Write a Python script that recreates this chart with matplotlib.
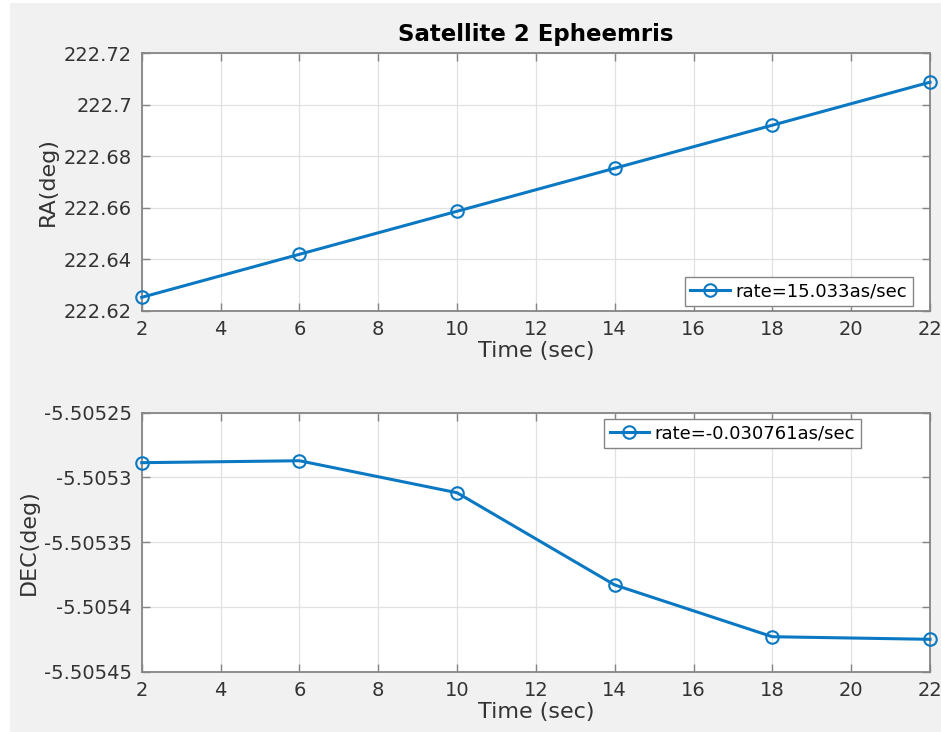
import matplotlib
matplotlib.use("Agg")
import matplotlib.pyplot as plt
from matplotlib.patches import Rectangle

# Data
time_s = [2, 6, 10, 14, 18, 22]
ra_deg = [222.6252, 222.6419, 222.6586, 222.6753, 222.6920, 222.7087]
dec_deg = [-5.5052886, -5.5052871, -5.5053118, -5.5053830, -5.5054230, -5.5054250]

x_ticks = [2, 4, 6, 8, 10, 12, 14, 16, 18, 20, 22]
ra_ticks = [222.62, 222.64, 222.66, 222.68, 222.70, 222.72]
ra_ticklabels = ["222.62", "222.64", "222.66", "222.68", "222.7", "222.72"]
dec_ticks = [-5.50545, -5.50540, -5.50535, -5.50530, -5.50525]
dec_ticklabels = ["-5.50545", "-5.5054", "-5.50535", "-5.5053", "-5.50525"]

ra_label = "rate=15.033as/sec"
dec_label = "rate=-0.030761as/sec"

line_color = "#0a78c2"
bg_grey = "#f0f1f0"
edge_grey = "#858585"
text_grey = "#333333"

plt.rcParams["font.family"] = "DejaVu Sans"

fig = plt.figure(figsize=(9.41, 7.32), dpi=100, facecolor="white")
fig.patches.append(Rectangle((10 / 941, 0), 1 - 10 / 941, 1 - 3 / 732,
                             transform=fig.transFigure, facecolor=bg_grey,
                             edgecolor="none", zorder=-10))

ax1 = fig.add_axes([0.1506, 0.5755, 0.8377, 0.352])
ax2 = fig.add_axes([0.1506, 0.0824, 0.8377, 0.3538])


def style_axes(ax):
    ax.set_facecolor("white")
    ax.grid(True, color="#e1e1e1", linewidth=0.9)
    ax.set_axisbelow(True)
    for sp in ax.spines.values():
        sp.set_color(edge_grey)
        sp.set_linewidth(1.3)
    ax.tick_params(direction="in", length=6, width=1, color=edge_grey,
                   top=True, right=True, labelsize=14, labelcolor=text_grey, pad=7)
    ax.set_xticks(x_ticks)
    ax.set_xlim(2, 22)
    ax.set_xlabel("Time (sec)", fontsize=16, color=text_grey, labelpad=1)


ax1.plot(time_s, ra_deg, "-o", color=line_color, lw=2.2, ms=9, mfc="none",
         mew=1.5, label=ra_label, clip_on=False, zorder=3)
style_axes(ax1)
ax1.set_ylim(222.62, 222.72)
ax1.set_yticks(ra_ticks)
ax1.set_yticklabels(ra_ticklabels)
ax1.set_ylabel("RA(deg)", fontsize=16, color=text_grey, labelpad=4)
ax1.set_title("Satellite 2 Epheemris", fontsize=16.5, fontweight="bold", pad=9)
leg1 = ax1.legend(loc="lower right", bbox_to_anchor=(0.978, 0.018), borderaxespad=0,
                  fontsize=13, fancybox=False, edgecolor=edge_grey, framealpha=1,
                  handlelength=2.2, handletextpad=0.3, borderpad=0.3)
leg1.get_frame().set_linewidth(1.0)

ax2.plot(time_s, dec_deg, "-o", color=line_color, lw=2.2, ms=9, mfc="none",
         mew=1.5, label=dec_label, clip_on=False, zorder=3)
style_axes(ax2)
ax2.set_ylim(-5.50545, -5.50525)
ax2.set_yticks(dec_ticks)
ax2.set_yticklabels(dec_ticklabels)
ax2.set_ylabel("DEC(deg)", fontsize=16, color=text_grey, labelpad=4)
leg2 = ax2.legend(loc="upper right", bbox_to_anchor=(0.912, 0.975), borderaxespad=0,
                  fontsize=13, fancybox=False, edgecolor=edge_grey, framealpha=1,
                  handlelength=2.2, handletextpad=0.3, borderpad=0.3)
leg2.get_frame().set_linewidth(1.0)

fig.savefig("out.png", dpi=100, facecolor=fig.get_facecolor())
